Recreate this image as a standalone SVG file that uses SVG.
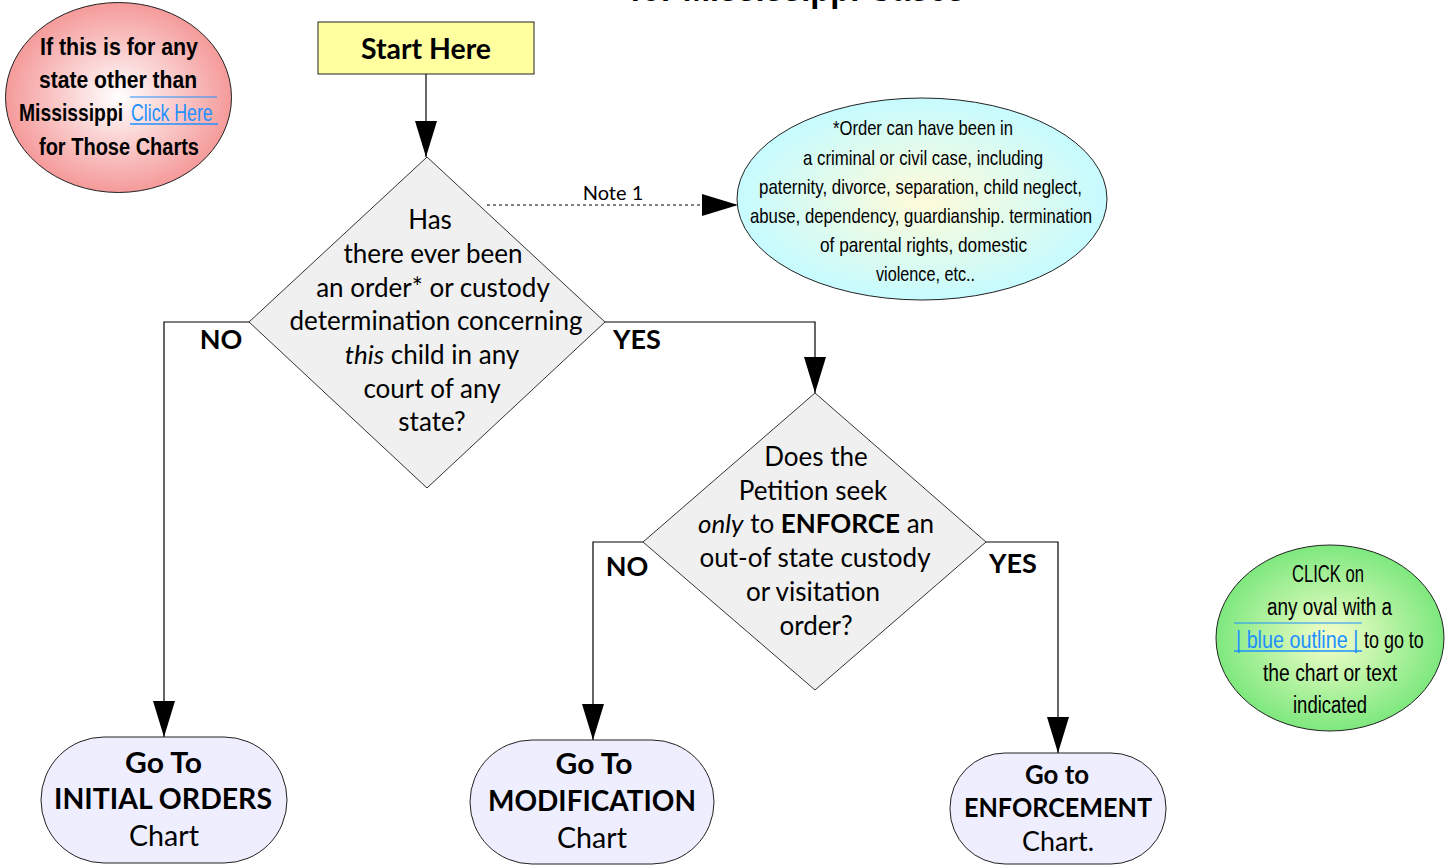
<svg xmlns="http://www.w3.org/2000/svg" width="1448" height="865" viewBox="0 0 1448 865">
<style>
.g{font-family:Lato,"DejaVu Sans",sans-serif;font-size:26px;fill:#000;text-anchor:middle}
.b{font-weight:bold}
.c{font-family:"Liberation Sans",Arial,sans-serif;fill:#000;text-anchor:middle}
.s{text-anchor:start}
.lnk{fill:#1e90ff}
.conn{stroke:#000;stroke-width:1.2;fill:none}
.dia{fill:#f0f0f0;stroke:#333;stroke-width:1}
.term{fill:#eeeeff;stroke:#222;stroke-width:1}
.lbl{font-size:27px;font-weight:bold}
.note{font-size:20px}
.big{font-size:28px}
</style>
<defs>
<marker id="ah" markerUnits="userSpaceOnUse" viewBox="0 0 36 22" refX="36" refY="11" markerWidth="36" markerHeight="22" orient="auto">
<path d="M0,0 L36,11 L0,22 z" fill="#000"/>
</marker>
<radialGradient id="gPink" cx="50%" cy="50%" r="50%">
<stop offset="0" stop-color="#ffffff"/>
<stop offset="1" stop-color="#f59a9a"/>
</radialGradient>
<radialGradient id="gCyan" cx="50%" cy="50%" r="50%">
<stop offset="0" stop-color="#fffbd8"/>
<stop offset="1" stop-color="#c6fbff"/>
</radialGradient>
<radialGradient id="gGreen" cx="50%" cy="50%" r="50%">
<stop offset="0" stop-color="#f6ffcc"/>
<stop offset="1" stop-color="#7ee87e"/>
</radialGradient>
</defs>
<rect width="1448" height="865" fill="#fff"/>
<text x="797.5" y="0.5" font-family="Liberation Sans,Arial,sans-serif" font-weight="bold" font-size="38" text-anchor="middle" fill="#000" textLength="335" lengthAdjust="spacingAndGlyphs">for Mississippi Cases</text>

<g id="connectors">
<line class="conn" x1="426" y1="74" x2="426" y2="157" marker-end="url(#ah)"/>
<polyline class="conn" points="249,322 164,322 164,737" marker-end="url(#ah)"/>
<polyline class="conn" points="605,322 815,322 815,393" marker-end="url(#ah)"/>
<line class="conn" x1="487" y1="205" x2="738" y2="205" stroke-dasharray="3,3" marker-end="url(#ah)"/>
<polyline class="conn" points="643,542 593,542 593,740" marker-end="url(#ah)"/>
<polyline class="conn" points="986,542 1058,542 1058,753" marker-end="url(#ah)"/>
<text class="g lbl" x="221" y="349">NO</text>
<text class="g lbl" x="637" y="349">YES</text>
<text class="g note" x="613" y="200">Note 1</text>
<text class="g lbl" x="627" y="576">NO</text>
<text class="g lbl" x="1013" y="573">YES</text>
</g>

<g id="other-states">
<ellipse cx="118.5" cy="97.5" rx="113" ry="95" fill="url(#gPink)" stroke="#222" stroke-width="1"/>
<text class="c b" font-size="23" x="119" y="55" textLength="158" lengthAdjust="spacingAndGlyphs">If this is for any</text>
<text class="c b" font-size="23" x="118" y="88" textLength="158" lengthAdjust="spacingAndGlyphs">state other than</text>
<g transform="translate(19,121) scale(0.84,1)"><text class="c b s" font-size="23" x="0" y="0">Mississippi</text></g>
<g transform="translate(131,121) scale(0.77,1)"><text class="c s lnk" font-size="23" x="0" y="0">Click Here</text></g>
<line x1="130" y1="97" x2="217" y2="97" stroke="#1e90ff" stroke-width="1"/>
<line x1="130" y1="124" x2="218" y2="124" stroke="#1e90ff" stroke-width="1.5"/>
<text class="c b" font-size="23" x="119" y="155" textLength="160" lengthAdjust="spacingAndGlyphs">for Those Charts</text>
</g>

<g id="start">
<rect x="318" y="22" width="216" height="52" fill="#ffffa0" stroke="#222" stroke-width="1"/>
<text class="g b big" x="426" y="59" textLength="130" lengthAdjust="spacingAndGlyphs">Start Here</text>
</g>

<g id="q1">
<polygon class="dia" points="427,157 605,322 427,488 249,322"/>
<text class="g" x="430" y="229">Has</text>
<text class="g" x="433" y="263">there ever been</text>
<text class="g" x="433" y="297">an order* or custody</text>
<text class="g" x="436" y="330">determination concerning</text>
<text class="g" x="432" y="364"><tspan font-style="italic">this</tspan> child in any</text>
<text class="g" x="432" y="398">court of any</text>
<text class="g" x="432" y="431">state?</text>
</g>

<g id="note1">
<ellipse cx="922" cy="199" rx="185" ry="101" fill="url(#gCyan)" stroke="#222" stroke-width="1"/>
<text class="c" font-size="21" x="923" y="135" textLength="180" lengthAdjust="spacingAndGlyphs">*Order can have been in</text>
<text class="c" font-size="21" x="923" y="165" textLength="240" lengthAdjust="spacingAndGlyphs">a criminal or civil case, including</text>
<text class="c" font-size="21" x="920.5" y="194" textLength="323" lengthAdjust="spacingAndGlyphs">paternity, divorce, separation, child neglect,</text>
<text class="c" font-size="21" x="921" y="223" textLength="342" lengthAdjust="spacingAndGlyphs">abuse, dependency, guardianship. termination</text>
<text class="c" font-size="21" x="923.5" y="252" textLength="207" lengthAdjust="spacingAndGlyphs">of parental rights, domestic</text>
<text class="c" font-size="21" x="925.5" y="281" textLength="99" lengthAdjust="spacingAndGlyphs">violence, etc..</text>
</g>

<g id="q2">
<polygon class="dia" points="815,393 986,542 815,690 643,542"/>
<text class="g" x="816" y="466">Does the</text>
<text class="g" x="813" y="500">Petition seek</text>
<text class="g" x="816" y="533"><tspan font-style="italic">only</tspan> to <tspan font-weight="bold">ENFORCE</tspan> an</text>
<text class="g" x="815" y="567">out-of state custody</text>
<text class="g" x="813" y="601">or visitation</text>
<text class="g" x="816" y="635">order?</text>
</g>

<g id="help">
<ellipse cx="1330" cy="638" rx="114" ry="93" fill="url(#gGreen)" stroke="#222" stroke-width="1"/>
<text class="c" font-size="23" x="1328" y="582" textLength="72" lengthAdjust="spacingAndGlyphs">CLICK on</text>
<text class="c" font-size="23" x="1329.5" y="615" textLength="125" lengthAdjust="spacingAndGlyphs">any oval with a</text>
<line x1="1234" y1="623" x2="1362" y2="623" stroke="#1e90ff" stroke-width="1"/>
<g transform="translate(1236,648) scale(0.86,1)"><text class="c s lnk" font-size="23" x="0" y="0">| blue outline |</text></g>
<g transform="translate(1364,648) scale(0.78,1)"><text class="c s" font-size="23" x="0" y="0">to go to</text></g>
<line x1="1234" y1="651" x2="1362" y2="651" stroke="#1e90ff" stroke-width="1.5"/>
<text class="c" font-size="23" x="1330" y="681" textLength="134" lengthAdjust="spacingAndGlyphs">the chart or text</text>
<text class="c" font-size="23" x="1330" y="713" textLength="74" lengthAdjust="spacingAndGlyphs">indicated</text>
</g>

<g id="initial">
<rect class="term" x="41" y="737" width="246" height="126" rx="63" ry="63"/>
<text class="g b big" x="163.5" y="773" textLength="77" lengthAdjust="spacingAndGlyphs">Go To</text>
<text class="g b big" x="163" y="809" textLength="218" lengthAdjust="spacingAndGlyphs">INITIAL ORDERS</text>
<text class="g big" x="164" y="846" textLength="70" lengthAdjust="spacingAndGlyphs">Chart</text>
</g>

<g id="modification">
<rect class="term" x="470" y="740" width="244" height="124" rx="62" ry="62"/>
<text class="g b big" x="594" y="774" textLength="77" lengthAdjust="spacingAndGlyphs">Go To</text>
<text class="g b big" x="592" y="811" textLength="208" lengthAdjust="spacingAndGlyphs">MODIFICATION</text>
<text class="g big" x="592" y="848" textLength="70" lengthAdjust="spacingAndGlyphs">Chart</text>
</g>

<g id="enforcement">
<rect class="term" x="950" y="753" width="216" height="111" rx="55" ry="55"/>
<text class="g b" x="1057" y="784" textLength="64" lengthAdjust="spacingAndGlyphs">Go to</text>
<text class="g b" x="1058" y="817" textLength="188" lengthAdjust="spacingAndGlyphs">ENFORCEMENT</text>
<text class="g" x="1058" y="851" textLength="72" lengthAdjust="spacingAndGlyphs">Chart.</text>
</g>
</svg>
